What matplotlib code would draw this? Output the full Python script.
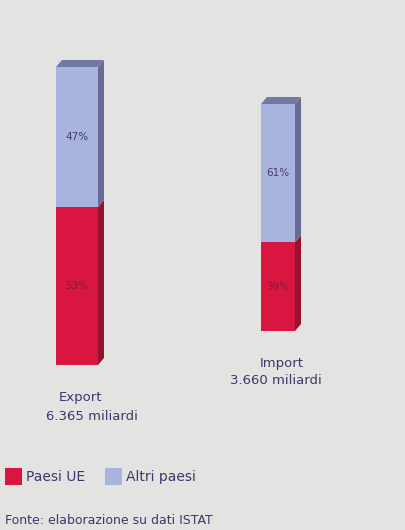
import matplotlib.pyplot as plt
from matplotlib.patches import Polygon

# data
flows = ["Export", "Import"]
totals = ["6.365 miliardi", "3.660 miliardi"]
paesi_ue = [53, 39]
altri_paesi = [47, 61]
legend_labels = ["Paesi UE", "Altri paesi"]
source = "Fonte: elaborazione su dati ISTAT"

W, H = 405, 530
bg = "#e3e3e1"
front = ["#d8163f", "#a8b3de"]
side = ["#94142f", "#686c94"]
top_col = "#7479a3"
pct_col = ["#851a3a", "#463a72"]
txt_col = "#3c386c"

fig = plt.figure(figsize=(W / 100, H / 100), dpi=100, facecolor=bg)

# bar boxes in pixels: left, top, right, bottom of the front face
boxes = [(56, 67, 98, 365), (261, 104, 295, 331)]
depth = (6, 7)  # px offset of the 3d faces

for i, (l, t, r, b) in enumerate(boxes):
    ax = fig.add_axes([l / W, 1 - b / H, (r - l) / W, (b - t) / H])
    ax.set_xlim(0, 1)
    ax.set_ylim(0, 100)
    ax.axis("off")
    dx = depth[0] / (r - l)
    dy = depth[1] / (b - t) * 100
    bottom = 0
    for j, v in enumerate([paesi_ue[i], altri_paesi[i]]):
        ax.bar(0.5, v, width=1, bottom=bottom, color=front[j], clip_on=False, zorder=2)
        ax.add_patch(Polygon([(1, bottom), (1 + dx, bottom + dy), (1 + dx, bottom + v + dy), (1, bottom + v)],
                             closed=True, facecolor=side[j], edgecolor="none", clip_on=False, zorder=1))
        ax.text(0.5, bottom + v / 2, f"{v}%", ha="center", va="center", fontsize=7.5,
                color=pct_col[j], zorder=3)
        bottom += v
    ax.add_patch(Polygon([(0, bottom), (dx, bottom + dy), (1 + dx, bottom + dy), (1, bottom)],
                         closed=True, facecolor=top_col, edgecolor="none", clip_on=False, zorder=1))

# flow labels
label_pos = [((81, 398), (92, 416)), ((282, 364), (276, 381))]
for i, ((x1, y1), (x2, y2)) in enumerate(label_pos):
    fig.text(x1 / W, 1 - y1 / H, flows[i], ha="center", va="center", fontsize=9.5, color=txt_col)
    fig.text(x2 / W, 1 - y2 / H, totals[i], ha="center", va="center", fontsize=9.5, color=txt_col)

# legend
leg_x = [5, 105]
for i, lab in enumerate(legend_labels):
    fig.patches.append(plt.Rectangle((leg_x[i] / W, 1 - 485 / H), 17 / W, 17 / H,
                                     transform=fig.transFigure, facecolor=front[i], edgecolor="none"))
    fig.text((leg_x[i] + 21) / W, 1 - 477 / H, lab, ha="left", va="center", fontsize=10, color=txt_col)

fig.text(5 / W, 1 - 521 / H, source, ha="left", va="center", fontsize=9, color=txt_col)

fig.savefig("out.png", dpi=100, facecolor=bg)
